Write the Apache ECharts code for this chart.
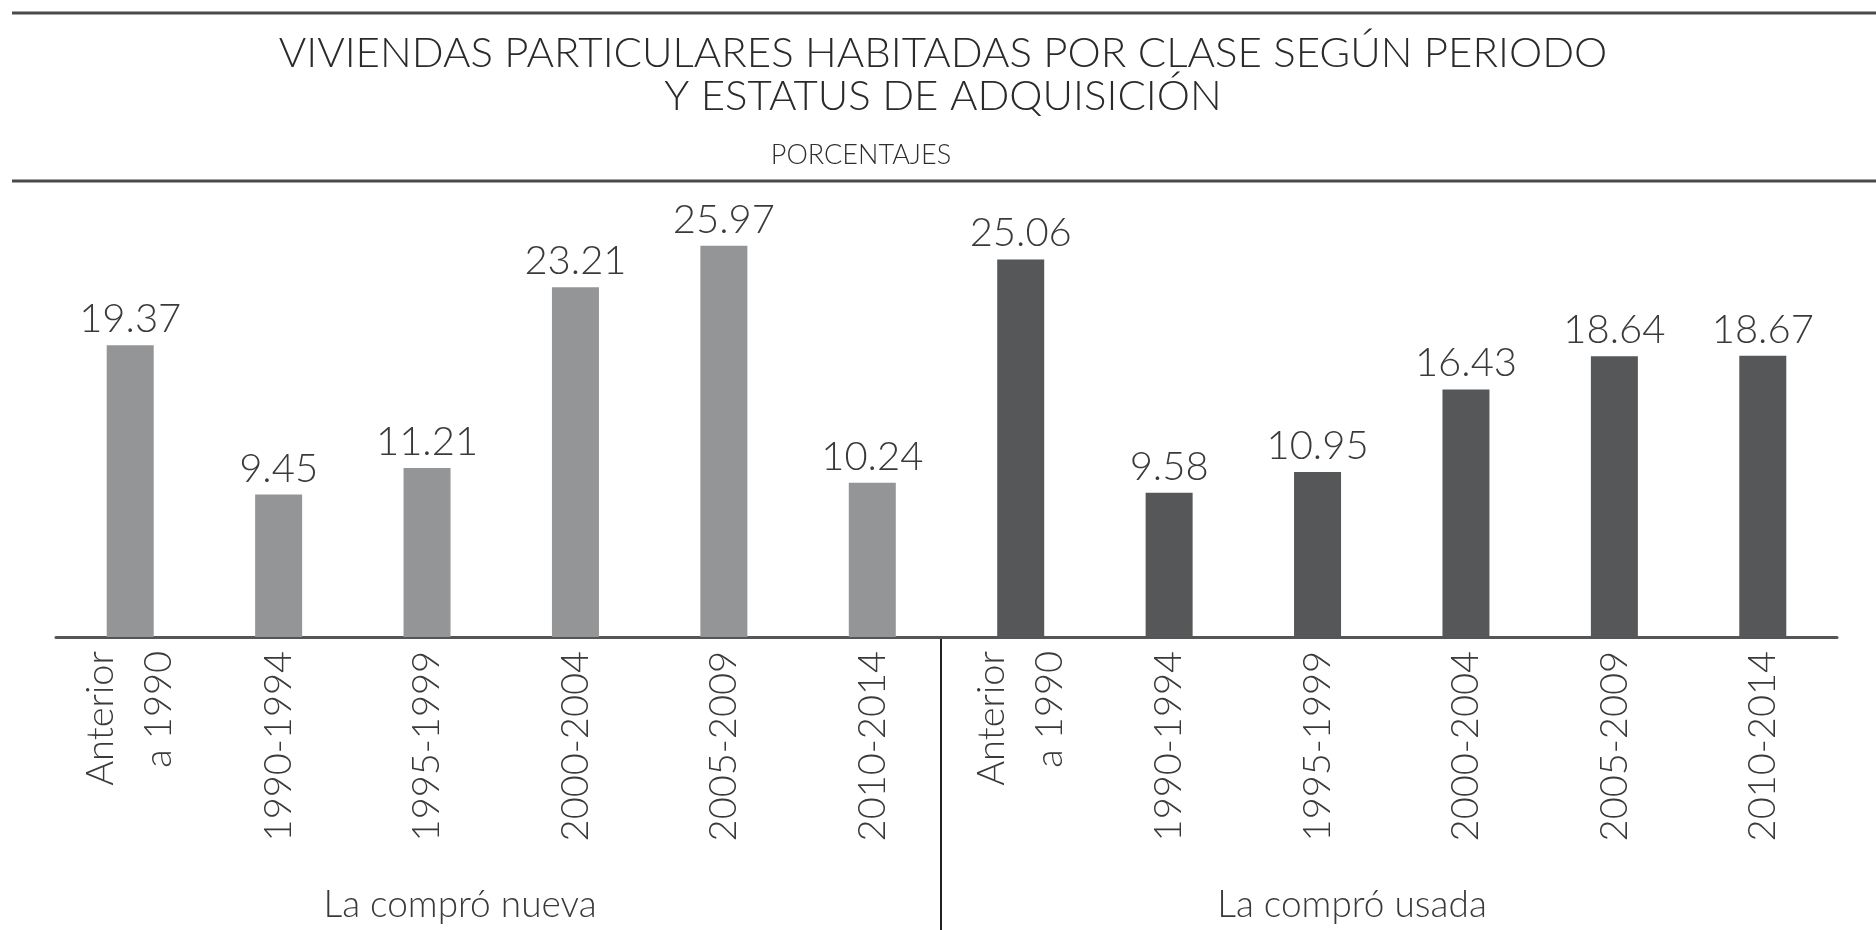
<!DOCTYPE html>
<html>
<head>
<meta charset="utf-8">
<script src="https://cdn.jsdelivr.net/npm/echarts@6/dist/echarts.min.js"></script>
<style>
html, body { margin: 0; padding: 0; background: #fff; }
#main { width: 1876px; height: 930px; }
</style>
</head>
<body>
<div id="main"></div>
<script>
var periodos = ['Anterior\na 1990', '1990-1994', '1995-1999', '2000-2004', '2005-2009', '2010-2014'];
var grupos = ['La compró nueva', 'La compró usada'];
var nueva = [19.37, 9.45, 11.21, 23.21, 25.97, 10.24];
var usada = [25.06, 9.58, 10.95, 16.43, 18.64, 18.67];

var categorias = periodos.concat(periodos);
var vacio = periodos.map(function() { return '-'; });

var fuente = 'Lato, "Open Sans", sans-serif';
var texto = '#3a3a3a';

var myChart = echarts.init(document.getElementById('main'));

var etiqueta = {
	show: true,
	position: 'top',
	distance: 6,
	fontFamily: fuente,
	fontWeight: 300,
	fontSize: 40,
	color: texto
};

option = {
	backgroundColor: '#fff',
	animation: false,
	title: [{
		text: 'VIVIENDAS PARTICULARES HABITADAS POR CLASE SEGÚN PERIODO',
		left: 938,
		top: 27,
		textAlign: 'center',
		textStyle: {
			fontFamily: fuente,
			fontWeight: 300,
			fontSize: 42,
			color: '#2a2a2a'
		}
	}, {
		text: 'Y ESTATUS DE ADQUISICIÓN',
		left: 938,
		top: 70,
		textAlign: 'center',
		textStyle: {
			fontFamily: fuente,
			fontWeight: 300,
			fontSize: 42,
			color: '#2a2a2a'
		}
	}, {
		text: 'PORCENTAJES',
		left: 856,
		top: 137,
		textAlign: 'center',
		textStyle: {
			fontFamily: fuente,
			fontWeight: 300,
			fontSize: 27,
			color: '#2e2e2e'
		}
	}, {
		text: grupos[0],
		left: 455,
		top: 882,
		textAlign: 'center',
		textStyle: { fontFamily: fuente, fontWeight: 300, fontSize: 37, color: texto }
	}, {
		text: grupos[1],
		left: 1347,
		top: 882,
		textAlign: 'center',
		textStyle: { fontFamily: fuente, fontWeight: 300, fontSize: 37, color: texto }
	}],
	grid: {
		left: 56,
		right: 39,
		top: 185,
		bottom: 293
	},
	xAxis: {
		type: 'category',
		data: categorias,
		axisLine: { lineStyle: { color: '#555', width: 3 } },
		axisTick: { show: false },
		axisLabel: {
			interval: 0,
			rotate: 90,
			margin: 14,
			fontFamily: fuente,
			fontWeight: 300,
			fontSize: 38,
			lineHeight: 58,
			color: texto
		}
	},
	yAxis: {
		type: 'value',
		min: 0,
		max: 30,
		show: false
	},
	series: [{
		name: grupos[0],
		type: 'bar',
		barWidth: 47,
		barGap: '-100%',
		itemStyle: { color: '#939597' },
		label: etiqueta,
		data: nueva.concat(vacio)
	}, {
		name: grupos[1],
		type: 'bar',
		barWidth: 47,
		barGap: '-100%',
		itemStyle: { color: '#555758' },
		label: etiqueta,
		data: vacio.concat(usada)
	}],
	graphic: [{
		type: 'line',
		shape: { x1: 12, y1: 13, x2: 1876, y2: 13 },
		style: { stroke: '#4a4a4a', lineWidth: 3 }
	}, {
		type: 'line',
		shape: { x1: 12, y1: 181, x2: 1876, y2: 181 },
		style: { stroke: '#4a4a4a', lineWidth: 3 }
	}, {
		type: 'line',
		shape: { x1: 941, y1: 637, x2: 941, y2: 930 },
		style: { stroke: '#222', lineWidth: 2 }
	}]
};

myChart.setOption(option);
</script>
</body>
</html>
